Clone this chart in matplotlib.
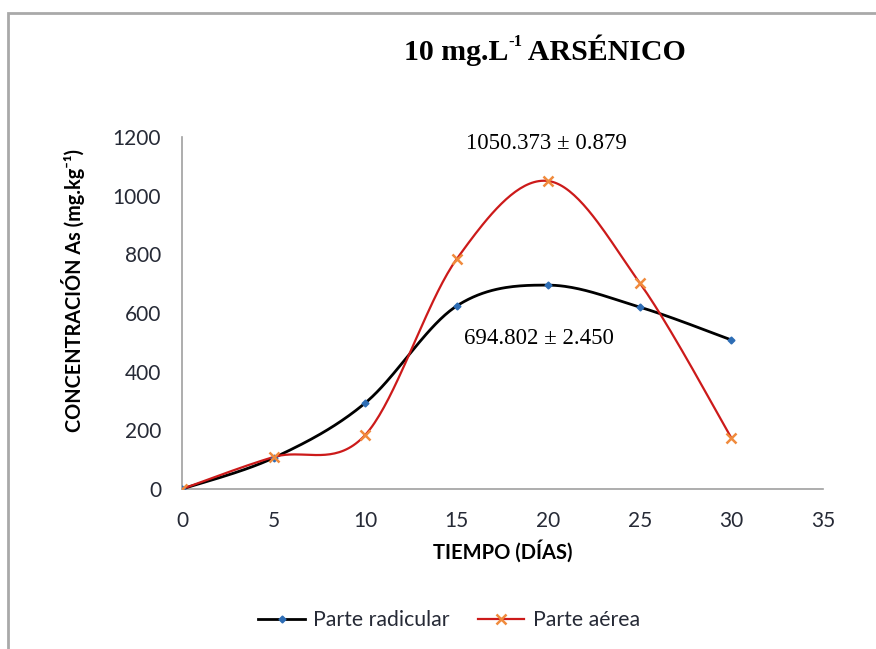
import numpy as np
import matplotlib
matplotlib.use('Agg')
import matplotlib.pyplot as plt
from matplotlib.patches import Rectangle
from matplotlib.lines import Line2D
from matplotlib.font_manager import FontProperties

# datos
dias = [0, 5, 10, 15, 20, 25, 30]
radicular = [0, 106, 293, 624, 695, 620, 508]
aerea = [0, 109, 184, 784, 1050, 702, 174]

titulo_a = '10 mg.L'
titulo_sup = '-1'
titulo_b = ' ARSÉNICO'
etiqueta_x = 'TIEMPO (DÍAS)'
etiqueta_y = 'CONCENTRACIÓN As (mg.kg⁻¹)'
texto_aerea = '1050.373 ± 0.879'
texto_radicular = '694.802 ± 2.450'

sans = ['Lato', 'DejaVu Sans']
serif = ['Liberation Serif', 'DejaVu Serif']
gris_texto = '#262a36'


def suavizar(x, y, n=40):
    # curva tipo excel (bezier con puntos de control catmull-rom)
    x = np.asarray(x, float)
    y = np.asarray(y, float)
    px = np.concatenate([[x[0]], x, [x[-1]]])
    py = np.concatenate([[y[0]], y, [y[-1]]])
    xs, ys = [], []
    t = np.linspace(0, 1, n)
    for i in range(1, len(px) - 2):
        p0x, p0y = px[i], py[i]
        p3x, p3y = px[i + 1], py[i + 1]
        c1x = p0x + (px[i + 1] - px[i - 1]) / 6
        c1y = p0y + (py[i + 1] - py[i - 1]) / 6
        c2x = p3x - (px[i + 2] - px[i]) / 6
        c2y = p3y - (py[i + 2] - py[i]) / 6
        b0 = (1 - t) ** 3
        b1 = 3 * (1 - t) ** 2 * t
        b2 = 3 * (1 - t) * t ** 2
        b3 = t ** 3
        xs.append(b0 * p0x + b1 * c1x + b2 * c2x + b3 * p3x)
        ys.append(b0 * p0y + b1 * c1y + b2 * c2y + b3 * p3y)
    return np.concatenate(xs), np.concatenate(ys)


fig = plt.figure(figsize=(8.76, 6.49), dpi=100)
fig.patches.append(Rectangle((8 / 876, -0.05), 1.2, 1 - 13 / 649 + 0.05,
                             transform=fig.transFigure, fill=False,
                             edgecolor='#a9a9a9', linewidth=2.0))

ax = fig.add_axes([182 / 876, 1 - 489 / 649, 641 / 876, 352 / 649])

xr, yr = suavizar(dias, radicular)
xa, ya = suavizar(dias, aerea)
ax.plot(xr, yr, color='black', linewidth=2, zorder=3)
ax.plot(dias, radicular, linestyle='none', marker='D', markersize=3.5,
        color='#2d6db5', zorder=5)
ax.plot(xa, ya, color='#cc1a1a', linewidth=1.6, zorder=4)
ax.plot(dias, aerea, linestyle='none', marker='x', markersize=6.5,
        markeredgewidth=1.8, color='#f08a3c', zorder=6)

ax.set_xlim(0, 35)
ax.set_ylim(0, 1200)
ax.set_xticks(range(0, 36, 5))
ax.set_yticks(range(0, 1201, 200))
for s in ['top', 'right']:
    ax.spines[s].set_visible(False)
for s in ['left', 'bottom']:
    ax.spines[s].set_color('#a0a0a0')
    ax.spines[s].set_linewidth(1.2)
ax.tick_params(length=0, labelsize=15, labelcolor=gris_texto)
ax.tick_params(axis='y', pad=15)
ax.tick_params(axis='x', pad=16)
for lab in ax.get_xticklabels() + ax.get_yticklabels():
    lab.set_family(sans)

ax.set_xlabel(etiqueta_x, family=sans, fontweight='bold', fontsize=14.5,
              labelpad=6)
ax.set_ylabel(etiqueta_y, family=sans, fontweight='bold', fontsize=14.3)
ax.yaxis.set_label_coords(-0.152, (489 - 290) / 352)

# titulo en tres piezas para que el superindice sea pequeno
fp_tit = FontProperties(family=serif, weight='bold', size=21.5)
fp_sup = FontProperties(family=serif, weight='bold', size=12)
t1 = fig.text(404 / 876, 1 - 53 / 649, titulo_a, ha='left', va='center',
              fontproperties=fp_tit)
t2 = ax.annotate(titulo_sup, xy=(1, 0.62), xycoords=t1, ha='left',
                 va='bottom', fontproperties=fp_sup, annotation_clip=False)
ax.annotate(titulo_b, xy=(1, 0), xycoords=(t2, t1), ha='left',
            va='bottom', fontproperties=fp_tit, annotation_clip=False)

ax.text(19.9, 1050 + 128, texto_aerea, ha='center', va='center',
        family=serif, fontsize=16.5)
ax.text(19.5, 694 - 182, texto_radicular, ha='center', va='center',
        family=serif, fontsize=16.5)

h1 = Line2D([], [], color='black', linewidth=2, marker='D', markersize=3.5,
            markerfacecolor='#2d6db5', markeredgecolor='#2d6db5')
h2 = Line2D([], [], color='#cc1a1a', linewidth=1.6, marker='x', markersize=6.5,
            markeredgewidth=1.8, markeredgecolor='#f08a3c')
fig.legend([h1, h2], ['Parte radicular', 'Parte aérea'], loc='center',
           bbox_to_anchor=(449 / 876, 1 - 620 / 649), ncol=2, frameon=False,
           prop={'family': sans, 'size': 15.3}, handlelength=2.2,
           handletextpad=0.4, columnspacing=1.3, labelcolor=gris_texto)

fig.savefig('out.png', dpi=100)
